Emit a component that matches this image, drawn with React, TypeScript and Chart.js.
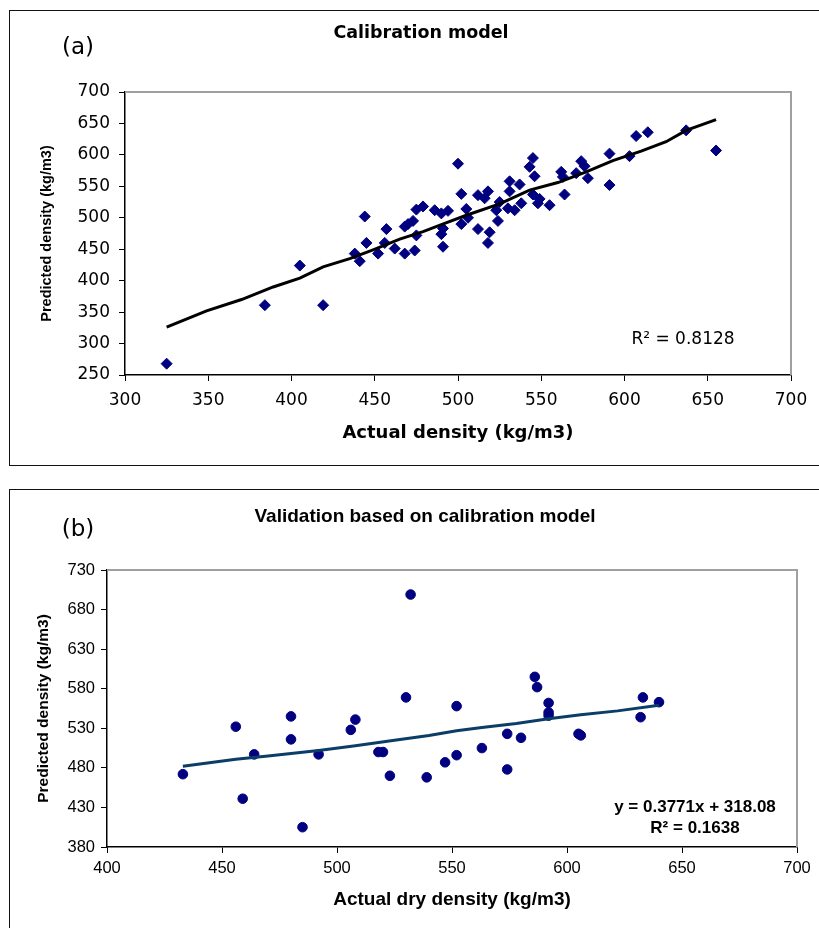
import React, { useEffect, useRef } from 'react';
import { Chart, registerables } from 'chart.js';

Chart.register(...registerables);

// ---------- (a) Calibration model ----------
const calActual = [325, 384, 419, 405, 444, 438, 441, 445, 452, 456, 457, 462, 468, 474, 468, 470, 473, 475, 479, 475,
  486, 490, 494, 491, 490, 491, 500, 502, 502, 505, 506, 512, 516, 518, 512, 519, 518, 524, 523, 525,
  531, 531, 530, 534, 537, 538, 545, 543, 546, 545, 549, 548, 555, 562, 563, 564, 571, 574, 576, 578,
  591, 591, 603, 607, 614, 637, 655];
const calPredicted = [268, 361, 361, 424, 502, 443, 431, 460, 443, 460, 482, 451, 443, 448, 486, 490, 495, 513, 518, 472,
  512, 507, 511, 483, 474, 454, 586, 538, 490, 514, 500, 536, 531, 542, 482, 477, 460, 495, 512, 525,
  558, 542, 515, 512, 553, 523, 595, 581, 566, 537, 530, 523, 520, 573, 565, 537, 571, 590, 582, 563,
  602, 552, 598, 630, 636, 639, 607];
const calLineX = [325, 349, 370, 389, 405, 419, 435, 449, 465, 479, 492, 505, 525, 543, 560, 577, 593, 610, 625, 637, 655];
const calLineY = [326, 352, 370, 390, 404, 422, 435, 449, 466, 478, 491, 504, 522, 544, 556, 573, 591, 606, 621, 639, 656];
const calXRange = [300, 700];
const calYRange = [250, 700];
const calStep = 50;
const calTitle = 'Calibration model';
const calPanel = '(a)';
const calXTitle = 'Actual density (kg/m3)';
const calYTitle = 'Predicted density (kg/m3)';
const calR2 = 'R² = 0.8128';

// ---------- (b) Validation ----------
const valActual = [433, 456, 459, 464, 480, 480, 485, 492, 506, 508, 518, 520, 523, 530, 532, 539, 547, 552, 552,
  563, 574, 580, 574, 586, 587, 592, 592, 592, 605, 606, 632, 633, 640];
const valPredicted = [472, 532, 441, 497, 545, 516, 405, 497, 528, 541, 500, 500, 470, 569, 699, 468, 487, 496, 558,
  505, 523, 518, 478, 595, 582, 562, 550, 546, 523, 521, 544, 569, 563];
const valLineX = [433, 456, 470, 492, 508, 525, 540, 552, 563, 578, 592, 606, 622, 640];
const valLineY = [482, 491, 495, 502, 508, 515, 521, 527, 531, 536, 542, 547, 552, 559];
const valXRange = [400, 700];
const valYRange = [380, 730];
const valStep = 50;
const valTitle = 'Validation based on calibration model';
const valPanel = '(b)';
const valXTitle = 'Actual dry density (kg/m3)';
const valYTitle = 'Predicted density (kg/m3)';
const valEq = 'y = 0.3771x + 318.08';
const valR2 = 'R² = 0.1638';

const FONT_A = '"DejaVu Sans", sans-serif';
const FONT_B = '"Liberation Sans", Arial, sans-serif';
const NAVY = '#000080';

type TextItem = { text: string; x: number; y: number; font: string; align?: CanvasTextAlign };

const decorPlugin = {
  id: 'decor',
  beforeDatasetsDraw(chart: any) {
    const { ctx, chartArea } = chart;
    const { left, top, right, bottom } = chartArea;
    ctx.save();
    ctx.strokeStyle = '#a0a0a0';
    ctx.lineWidth = 2;
    ctx.beginPath();
    ctx.moveTo(left, top);
    ctx.lineTo(right, top);
    ctx.lineTo(right, bottom);
    ctx.stroke();
    ctx.restore();
  },
  afterDraw(chart: any, _args: any, opts: any) {
    const { ctx } = chart;
    const texts: TextItem[] = (opts && opts.texts) || [];
    ctx.save();
    ctx.fillStyle = '#000';
    ctx.textBaseline = 'middle';
    texts.forEach((t) => {
      ctx.font = t.font;
      ctx.textAlign = t.align || 'center';
      ctx.fillText(t.text, t.x, t.y);
    });
    ctx.restore();
  },
};

type Cfg = {
  xs: number[]; ys: number[]; lx: number[]; ly: number[];
  xRange: number[]; yRange: number[]; step: number;
  xTitle: string; yTitle: string;
  family: string; tickSize: number; xTitleSize: number; yTitleFamily: string; yTitleSize: number;
  yWidth: number; xHeight: number; padRight: number; padTop: number;
  yTitlePad: number; xTitlePad: number; xTickPad: number; yTickPad: number;
  pointStyle: string; pointRadius: number; lineColor: string; lineWidth: number;
  texts: TextItem[];
};

function makeConfig(c: Cfg): any {
  return {
    type: 'scatter',
    data: {
      datasets: [
        {
          label: 'fit',
          data: c.lx.map((x, i) => ({ x, y: c.ly[i] })),
          showLine: true,
          borderColor: c.lineColor,
          borderWidth: c.lineWidth,
          pointRadius: 0,
          tension: 0,
          order: 0,
        },
        {
          label: 'data',
          data: c.xs.map((x, i) => ({ x, y: c.ys[i] })),
          pointStyle: c.pointStyle,
          pointRadius: c.pointRadius,
          backgroundColor: NAVY,
          borderColor: NAVY,
          borderWidth: 1,
          order: 1,
        },
      ],
    },
    options: {
      responsive: false,
      animation: false,
      devicePixelRatio: 1,
      layout: { padding: { left: 0, right: c.padRight, top: c.padTop, bottom: 0 } },
      plugins: {
        legend: { display: false },
        tooltip: { enabled: false },
        title: { display: false },
        decor: { texts: c.texts },
      },
      scales: {
        x: {
          type: 'linear',
          min: c.xRange[0],
          max: c.xRange[1],
          afterFit: (s: any) => { s.height = c.xHeight; },
          ticks: { stepSize: c.step, color: '#000', font: { family: c.family, size: c.tickSize }, padding: c.xTickPad, maxRotation: 0 },
          grid: { drawOnChartArea: false, drawTicks: true, tickLength: 6, color: '#000', lineWidth: 1 },
          border: { display: true, color: '#000', width: 1.5 },
          title: {
            display: true, text: c.xTitle, color: '#000',
            font: { family: c.family, size: c.xTitleSize, weight: 'bold' },
            padding: { top: 0, bottom: c.xTitlePad },
          },
        },
        y: {
          type: 'linear',
          min: c.yRange[0],
          max: c.yRange[1],
          afterFit: (s: any) => { s.width = c.yWidth; },
          ticks: { stepSize: c.step, color: '#000', font: { family: c.family, size: c.tickSize }, padding: c.yTickPad },
          grid: { drawOnChartArea: false, drawTicks: true, tickLength: 6, color: '#000', lineWidth: 1 },
          border: { display: true, color: '#000', width: 1.5 },
          title: {
            display: true, text: c.yTitle, color: '#000',
            font: { family: c.yTitleFamily, size: c.yTitleSize, weight: 'bold' },
            padding: { top: c.yTitlePad, bottom: 0 },
          },
        },
      },
    },
    plugins: [decorPlugin],
  };
}

function ChartCanvas({ cfg, width, height, left, top }: { cfg: Cfg; width: number; height: number; left: number; top: number }) {
  const ref = useRef<HTMLCanvasElement | null>(null);
  useEffect(() => {
    if (!ref.current) return;
    const chart = new Chart(ref.current, makeConfig(cfg));
    return () => chart.destroy();
  }, []);
  return (
    <canvas
      ref={ref}
      width={width}
      height={height}
      style={{ position: 'absolute', left, top, width, height, display: 'block' }}
    />
  );
}

const cfgA: Cfg = {
  xs: calActual, ys: calPredicted, lx: calLineX, ly: calLineY,
  xRange: calXRange, yRange: calYRange, step: calStep,
  xTitle: calXTitle, yTitle: calYTitle,
  family: FONT_A, tickSize: 17, xTitleSize: 18, yTitleFamily: FONT_B, yTitleSize: 14.5,
  yWidth: 115, xHeight: 89, padRight: 28, padTop: 81,
  yTitlePad: 28, xTitlePad: 20, xTickPad: 9, yTickPad: 9,
  pointStyle: 'rectRot', pointRadius: 5.5, lineColor: '#000', lineWidth: 3,
  texts: [
    { text: calTitle, x: 411, y: 22, font: `bold 17.5px ${FONT_A}` },
    { text: calPanel, x: 68, y: 37, font: `23px ${FONT_A}` },
    { text: calR2, x: 673, y: 329, font: `17px ${FONT_A}` },
  ],
};

const cfgB: Cfg = {
  xs: valActual, ys: valPredicted, lx: valLineX, ly: valLineY,
  xRange: valXRange, yRange: valYRange, step: valStep,
  xTitle: valXTitle, yTitle: valYTitle,
  family: FONT_B, tickSize: 16.5, xTitleSize: 19, yTitleFamily: FONT_B, yTitleSize: 15.5,
  yWidth: 97, xHeight: 81, padRight: 22, padTop: 80,
  yTitlePad: 24, xTitlePad: 17, xTickPad: 6, yTickPad: 6,
  pointStyle: 'circle', pointRadius: 4.8, lineColor: '#0b3d66', lineWidth: 3,
  texts: [
    { text: valTitle, x: 415, y: 27, font: `bold 19px ${FONT_B}` },
    { text: valPanel, x: 68, y: 40, font: `23px ${FONT_A}` },
    { text: valEq, x: 685, y: 317, font: `bold 17px ${FONT_B}` },
    { text: valR2, x: 685, y: 338, font: `bold 17px ${FONT_B}` },
  ],
};

export default function App() {
  return (
    <div style={{ position: 'absolute', left: 0, top: 0, width: 819, height: 928, overflow: 'hidden', background: '#fff' }}>
      <div style={{ position: 'absolute', left: 9, top: 10, width: 850, height: 456, border: '1px solid #111', boxSizing: 'border-box' }} />
      <div style={{ position: 'absolute', left: 9, top: 489, width: 850, height: 500, border: '1px solid #111', boxSizing: 'border-box' }} />
      <ChartCanvas cfg={cfgA} width={809} height={453} left={10} top={11} />
      <ChartCanvas cfg={cfgB} width={809} height={438} left={10} top={490} />
    </div>
  );
}
